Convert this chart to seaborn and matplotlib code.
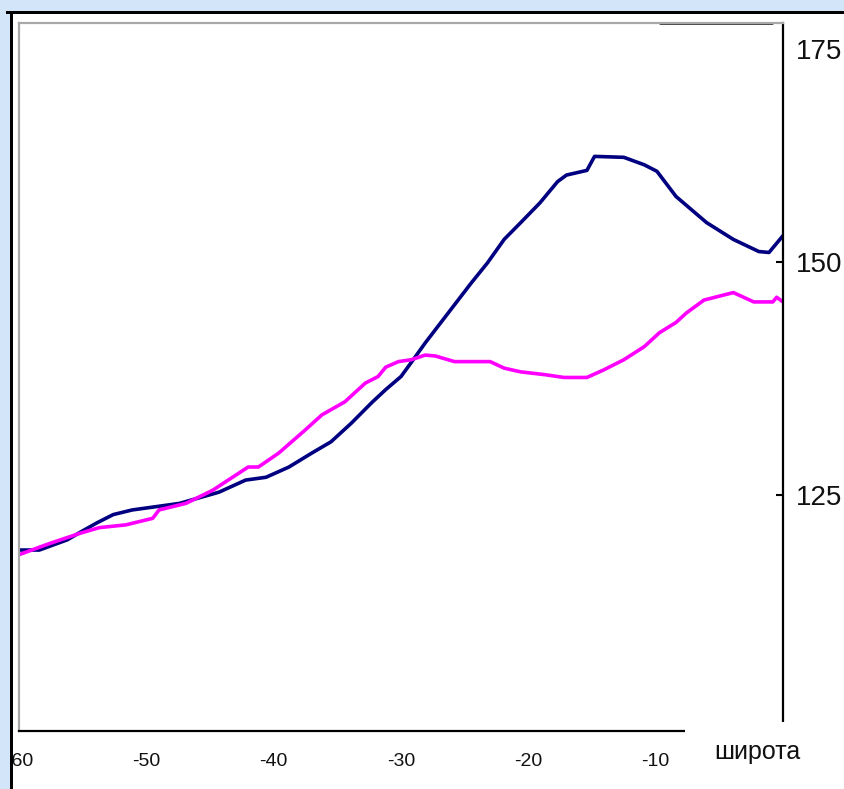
import matplotlib
matplotlib.use("Agg")
import matplotlib.pyplot as plt
import matplotlib.transforms as mtransforms
from matplotlib.patches import Rectangle
import numpy as np
import pandas as pd
import seaborn as sns

# Latitude (degrees) and values of the two profiles
lat_navy = [-60.0, -58.4, -56.2, -55.2, -53.9, -52.6, -51.1, -49.5, -47.4, -44.3,
            -42.2, -40.6, -38.8, -37.0, -35.5, -33.9, -32.3, -31.2, -30.0, -29.2,
            -28.1, -26.3, -24.5, -23.2, -21.9, -20.6, -19.1, -17.7, -17.0, -15.4,
            -14.8, -12.5, -10.9, -9.9, -8.4, -6.0, -3.9, -1.9, -1.1, 0.0]
val_navy = [119.1, 119.1, 120.2, 121.0, 122.0, 122.9, 123.4, 123.7, 124.1, 125.3,
            126.6, 126.9, 128.0, 129.5, 130.7, 132.7, 134.9, 136.3, 137.7, 139.2,
            141.3, 144.5, 147.7, 149.9, 152.4, 154.2, 156.3, 158.6, 159.3, 159.8,
            161.3, 161.2, 160.4, 159.7, 157.0, 154.2, 152.4, 151.1, 151.0, 152.8]

lat_magenta = [-60.0, -57.6, -55.2, -53.7, -51.6, -49.5, -49.0, -46.9, -44.8, -42.0,
               -41.2, -39.6, -37.5, -36.2, -34.4, -32.8, -31.8, -31.2, -30.2, -29.2,
               -28.1, -27.3, -25.8, -23.0, -21.9, -20.6, -18.7, -17.2, -15.4, -14.1,
               -12.5, -10.9, -9.7, -8.4, -7.6, -6.2, -3.9, -2.3, -0.8, -0.5, 0.0]
val_magenta = [118.6, 119.8, 120.9, 121.5, 121.8, 122.5, 123.4, 124.1, 125.5, 128.0,
               128.0, 129.5, 132.0, 133.6, 135.0, 137.0, 137.7, 138.7, 139.3, 139.5,
               140.0, 139.9, 139.3, 139.3, 138.6, 138.2, 137.9, 137.6, 137.6, 138.4,
               139.5, 140.9, 142.4, 143.5, 144.5, 145.9, 146.7, 145.7, 145.7, 146.2, 145.7]

x_ticks = [-60, -50, -40, -30, -20, -10]
y_ticks = [125, 150, 175]
x_label = "широта"

df = pd.concat([
    pd.DataFrame({"lat": lat_navy, "val": val_navy, "series": "navy"}),
    pd.DataFrame({"lat": lat_magenta, "val": val_magenta, "series": "magenta"}),
], ignore_index=True)

sns.set_theme(style="white")
plt.rcParams["font.family"] = ["Liberation Sans", "DejaVu Sans"]

W, H = 845, 789
fig = plt.figure(figsize=(W / 100, H / 100), dpi=100)
fig.patch.set_facecolor("white")


def fig_rect(x0, y0, x1, y1):
    """Rectangle in figure fraction from pixel corners (origin top-left)."""
    return (x0 / W, 1 - y1 / H), (x1 - x0) / W, (y1 - y0) / H


ax = fig.add_axes([19 / W, 1 - 731 / H, (783 - 19) / W, (731 - 23) / H])
ax.set_facecolor("white")

sns.lineplot(data=df, x="lat", y="val", hue="series",
             palette={"navy": "#000080", "magenta": "#ff00ff"},
             linewidth=2.6, sort=False, estimator=None, legend=False, ax=ax)

ax.set_xlim(-60, 0)
ax.set_ylim(99.7, 175.6)
ax.set_xticks(x_ticks)
ax.set_xticklabels([str(t) for t in x_ticks])
ax.set_yticks(y_ticks)
ax.set_yticklabels([str(t) for t in y_ticks])
ax.set_xlabel("")
ax.set_ylabel("")

ax.yaxis.tick_right()
ax.tick_params(axis="y", direction="in", length=5, width=1.5, color="black",
               labelsize=20, pad=9, left=False, right=True, labelcolor="#111111")
ax.tick_params(axis="x", direction="out", length=6, width=1.5, color="black",
               labelsize=14, pad=10, labelcolor="#111111")

# the top value carries a label only, set a little lower
for tick in ax.yaxis.get_major_ticks():
    if tick.get_loc() == 175:
        tick.tick2line.set_visible(False)
        tick.label2.set_transform(tick.label2.get_transform() +
                                  mtransforms.ScaledTranslation(0, -20 / 100, fig.dpi_scale_trans))

for side in ["left", "top"]:
    ax.spines[side].set_color("#a8a8a8")
    ax.spines[side].set_linewidth(1.6)
for side in ["right", "bottom"]:
    ax.spines[side].set_color("black")
    ax.spines[side].set_linewidth(1.6)

# darker piece of the top border near the right axis
ax.axhline(175.6, xmin=(660 - 19) / 764, xmax=(772 - 19) / 764,
           color="#303030", linewidth=2.0, clip_on=False)

# slide background and frame around the chart
blue = "#d3e5f8"
for x0, y0, x1, y1 in [(0, 0, 10, H), (0, 0, W, 11)]:
    xy, w, h = fig_rect(x0, y0, x1, y1)
    fig.add_artist(Rectangle(xy, w, h, transform=fig.transFigure,
                             facecolor=blue, edgecolor="none", zorder=5))
for x0, y0, x1, y1 in [(6, 11, W, 14), (10, 11, 13, H)]:
    xy, w, h = fig_rect(x0, y0, x1, y1)
    fig.add_artist(Rectangle(xy, w, h, transform=fig.transFigure,
                             facecolor="black", edgecolor="none", zorder=6))

# white box with the axis title
xy, w, h = fig_rect(685, 722, W, 778)
fig.add_artist(Rectangle(xy, w, h, transform=fig.transFigure,
                         facecolor="white", edgecolor="none", zorder=5))
fig.text(757 / W, 1 - 752 / H, x_label, ha="center", va="center",
         fontsize=18, color="#111111", zorder=7)

fig.savefig("out.png", dpi=100, facecolor=fig.get_facecolor())
